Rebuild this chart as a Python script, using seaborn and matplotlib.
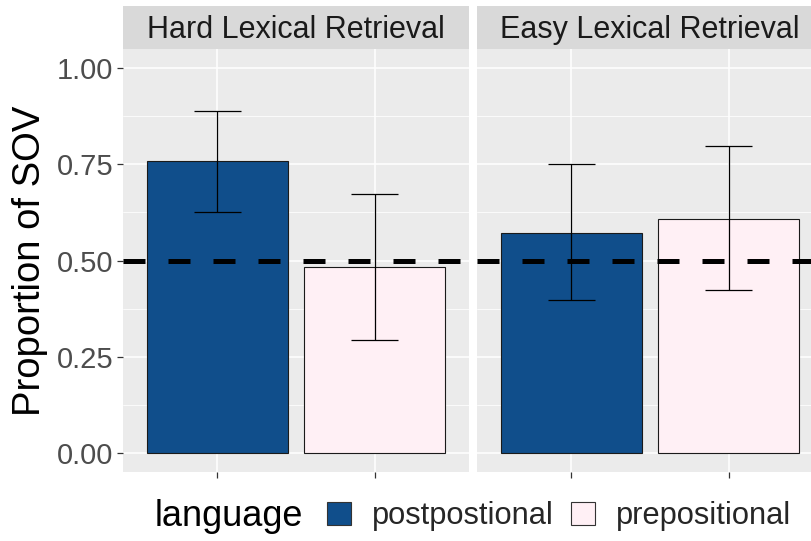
import numpy as np
import pandas as pd
import matplotlib
matplotlib.use("Agg")
import matplotlib.pyplot as plt
from matplotlib.patches import Patch
import seaborn as sns

# data
conditions = ["Hard Lexical Retrieval", "Easy Lexical Retrieval"]
languages = ["postpostional", "prepositional"]
prop_sov = [[0.758, 0.482], [0.571, 0.609]]
ci_low = [[0.625, 0.294], [0.398, 0.422]]
ci_high = [[0.888, 0.674], [0.750, 0.797]]
y_ticks = [0.00, 0.25, 0.50, 0.75, 1.00]
y_tick_labels = ["0.00", "0.25", "0.50", "0.75", "1.00"]

colors = {"postpostional": "#104E8B", "prepositional": "#FFF0F5"}

rows = []
for c, cond in enumerate(conditions):
    for l, lang in enumerate(languages):
        rows.append({"condition": cond, "language": lang, "prop": prop_sov[c][l],
                     "lo": ci_low[c][l], "hi": ci_high[c][l]})
df = pd.DataFrame(rows)

sns.set_theme(style="darkgrid")
plt.rcParams["font.family"] = ["Liberation Sans", "DejaVu Sans"]

W, H = 811, 541
fig = plt.figure(figsize=(W / 100, H / 100), dpi=100)

panel_lefts = [123, 477]
panel_w = 346
panel_bottom, panel_top = 472, 49
strip_top = 6

for i, cond in enumerate(conditions):
    x0 = panel_lefts[i]
    ax = fig.add_axes([x0 / W, (H - panel_bottom) / H, panel_w / W, (panel_bottom - panel_top) / H])
    ax.set_facecolor("#EBEBEB")
    sub = df[df["condition"] == cond]
    sns.barplot(data=sub, x="language", y="prop", hue="language", order=languages,
                palette=colors, saturation=1, edgecolor="#1a1a1a", linewidth=0.8, width=0.9,
                errorbar=None, legend=False, ax=ax, zorder=2)
    # error bars from the CI arrays
    xs = np.arange(len(languages))
    ax.vlines(xs, sub["lo"], sub["hi"], color="black", lw=0.9, zorder=3)
    ax.hlines(sub["lo"], xs - 0.15, xs + 0.15, color="black", lw=0.9, zorder=3)
    ax.hlines(sub["hi"], xs - 0.15, xs + 0.15, color="black", lw=0.9, zorder=3)
    ax.axhline(0.5, color="black", lw=3.6, ls=(0, (4.4, 4.6)), zorder=4)

    ax.set_xlim(-0.6, 1.6)
    ax.set_ylim(-0.05, 1.05)
    ax.set_yticks(y_ticks)
    ax.set_yticks([0.125, 0.375, 0.625, 0.875], minor=True)
    ax.grid(which="major", color="white", lw=1.1, zorder=0)
    ax.grid(which="minor", axis="y", color="white", lw=0.55, zorder=0)
    ax.set_axisbelow(True)
    for s in ax.spines.values():
        s.set_visible(False)
    ax.set_xticklabels([])
    ax.set_xlabel("")
    ax.tick_params(axis="x", which="major", length=4, width=0.9, color="#333333", bottom=True)
    ax.tick_params(axis="y", which="minor", length=0, left=False)
    if i == 0:
        ax.set_yticklabels(y_tick_labels)
        ax.tick_params(axis="y", which="major", length=4, width=0.9, color="#333333",
                       labelsize=21, labelcolor="#4D4D4D", pad=3, left=True)
        ax.set_ylabel("Proportion of SOV", fontsize=27.5, color="black", labelpad=6)
    else:
        ax.set_yticklabels([])
        ax.tick_params(axis="y", which="major", length=0, left=False)
        ax.set_ylabel("")

    # facet strip
    sax = fig.add_axes([x0 / W, (H - panel_top) / H, panel_w / W, (panel_top - strip_top) / H])
    sax.set_facecolor("#D9D9D9")
    sax.set_xticks([])
    sax.set_yticks([])
    for s in sax.spines.values():
        s.set_visible(False)
    sax.text(0.5, 0.45, cond, ha="center", va="center", fontsize=22, color="#1A1A1A",
             transform=sax.transAxes)

# legend at the bottom, title on the left like ggplot
legend_y = (H - 516) / H
fig.text(155 / W, legend_y, "language", ha="left", va="center", fontsize=26, color="black")
handles = [Patch(facecolor=colors[l], edgecolor="#333333", linewidth=0.8, label=l) for l in languages]
fig.legend(handles=handles, loc="center left", ncol=2,
           bbox_to_anchor=(327 / W, legend_y), frameon=False,
           fontsize=22.2, handlelength=0.78, handleheight=0.78,
           handletextpad=0.68, columnspacing=0.55, borderaxespad=0, borderpad=0)

fig.savefig("out.png", dpi=100)
